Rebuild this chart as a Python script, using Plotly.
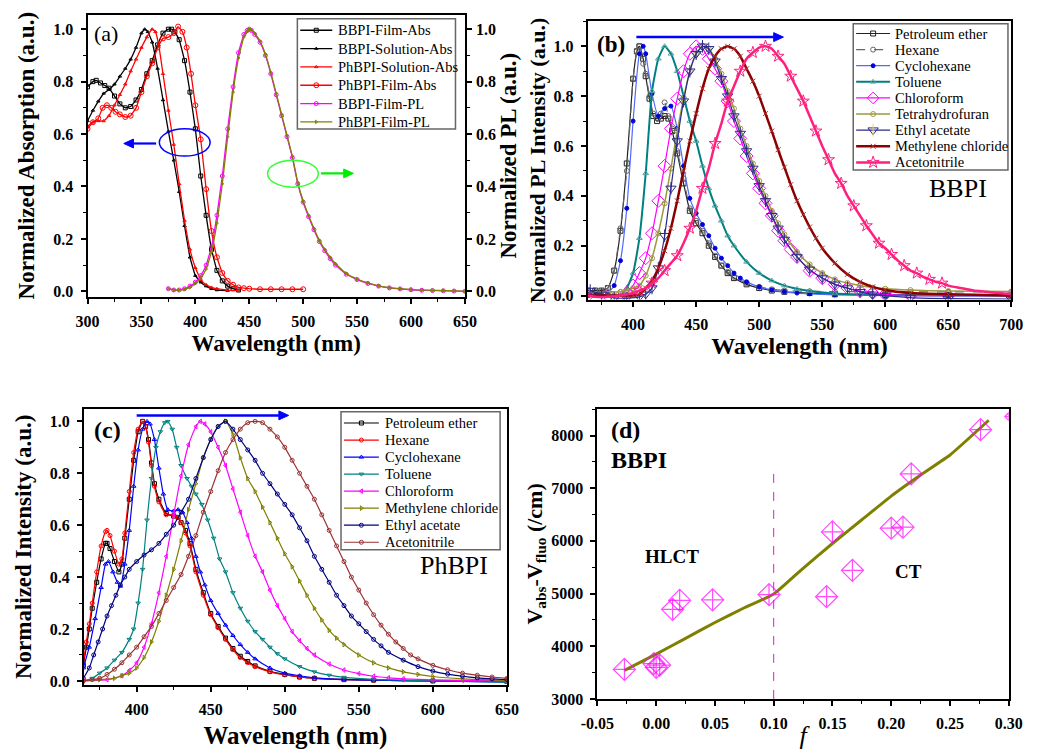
import plotly.graph_objects as go

# ---------------- DATA ----------------
# Panel (a): absorption (left axis) and film PL (right axis)
a_bfa_x = [300, 305, 308, 312, 316, 320, 325, 330, 335, 340, 345, 350, 355, 360, 365, 370, 375, 378, 381, 385,
           390, 395, 400, 405, 410, 415, 420, 425, 430, 435, 440]
a_bfa_y = [0.78, 0.80, 0.805, 0.795, 0.785, 0.775, 0.745, 0.715, 0.70, 0.705, 0.73, 0.77, 0.83, 0.88, 0.94, 0.985,
           1.0, 1.0, 0.99, 0.96, 0.88, 0.76, 0.62, 0.44, 0.29, 0.16, 0.08, 0.04, 0.02, 0.01, 0.005]
a_bsa_x = [300, 305, 310, 315, 320, 325, 330, 335, 340, 345, 350, 353, 356, 360, 365, 370, 375, 380, 385, 390,
           395, 400, 405, 410, 415, 420, 430]
a_bsa_y = [0.65, 0.69, 0.725, 0.755, 0.77, 0.79, 0.82, 0.85, 0.885, 0.93, 0.985, 1.0, 0.99, 0.95, 0.85, 0.73,
           0.61, 0.50, 0.38, 0.25, 0.13, 0.06, 0.035, 0.02, 0.01, 0.005, 0.003]
a_psa_x = [300, 305, 310, 315, 320, 325, 330, 335, 340, 345, 350, 355, 360, 363, 366, 370, 375, 380, 385, 390,
           395, 400, 405, 410, 415, 420, 430, 440]
a_psa_y = [0.63, 0.645, 0.65, 0.65, 0.67, 0.71, 0.75, 0.79, 0.84, 0.885, 0.93, 0.97, 1.0, 0.99, 0.94, 0.83,
           0.69, 0.56, 0.41, 0.27, 0.16, 0.09, 0.045, 0.025, 0.015, 0.01, 0.005, 0.003]
a_pfa_x = [300, 305, 310, 314, 318, 322, 326, 330, 335, 340, 345, 350, 355, 360, 365, 370, 375, 380, 384, 388,
           392, 396, 400, 405, 410, 415, 420, 425, 430, 435, 440, 445, 450, 460, 470, 480, 490, 500]
a_pfa_y = [0.62, 0.645, 0.66, 0.70, 0.71, 0.70, 0.685, 0.675, 0.665, 0.67, 0.70, 0.76, 0.82, 0.87, 0.93, 0.965,
           0.97, 0.985, 1.01, 0.99, 0.93, 0.83, 0.71, 0.58, 0.39, 0.23, 0.13, 0.07, 0.04, 0.025, 0.015, 0.012,
           0.01, 0.008, 0.008, 0.008, 0.008, 0.008]
a_pl_x = [375, 380, 385, 390, 395, 400, 405, 410, 415, 420, 425, 430, 435, 440, 445, 448, 450, 452, 455, 460,
          465, 470, 475, 480, 485, 490, 495, 500, 505, 510, 515, 520, 525, 530, 540, 550, 560, 570, 580, 590,
          600, 610, 620, 630, 640, 650]
a_bpl_y = [0.01, 0.005, 0.005, 0.01, 0.02, 0.035, 0.06, 0.10, 0.17, 0.29, 0.44, 0.62, 0.78, 0.91, 0.98, 0.995,
           1.0, 0.995, 0.98, 0.95, 0.90, 0.83, 0.75, 0.67, 0.59, 0.51, 0.41, 0.34, 0.285, 0.235, 0.19, 0.155,
           0.125, 0.10, 0.065, 0.045, 0.03, 0.02, 0.013, 0.009, 0.006, 0.004, 0.003, 0.002, 0.001, 0.0]
a_ppl_y = [0.01, 0.005, 0.005, 0.008, 0.015, 0.03, 0.05, 0.085, 0.15, 0.26, 0.41, 0.59, 0.76, 0.89, 0.97, 0.99,
           1.0, 0.998, 0.985, 0.955, 0.905, 0.835, 0.755, 0.675, 0.595, 0.515, 0.415, 0.345, 0.29, 0.24, 0.195,
           0.16, 0.13, 0.105, 0.068, 0.047, 0.032, 0.021, 0.014, 0.01, 0.007, 0.005, 0.004, 0.003, 0.002, 0.001]

# Panel (b): BBPI PL in solvents
b_pe_x = [364, 370, 375, 380, 385, 390, 395, 400, 403, 405, 408, 410, 413, 416, 419, 422, 425, 428, 431, 435,
          440, 445, 450, 455, 460, 465, 470, 475, 480, 490, 500, 510, 520, 540, 560, 600, 650, 700]
b_pe_y = [0.02, 0.02, 0.02, 0.03, 0.10, 0.26, 0.53, 0.87, 0.98, 1.0, 0.95, 0.88, 0.79, 0.72, 0.70, 0.71, 0.72,
          0.71, 0.66, 0.57, 0.45, 0.34, 0.29, 0.25, 0.20, 0.155, 0.12, 0.09, 0.07, 0.045, 0.03, 0.02, 0.015,
          0.01, 0.005, 0.003, 0.002, 0.0]
b_hx_y = [0.015, 0.015, 0.015, 0.03, 0.10, 0.27, 0.50, 0.87, 0.98, 1.0, 0.93, 0.89, 0.80, 0.73, 0.71, 0.73,
          0.775, 0.72, 0.67, 0.58, 0.47, 0.35, 0.30, 0.26, 0.21, 0.16, 0.12, 0.095, 0.075, 0.05, 0.035, 0.025,
          0.02, 0.017, 0.016, 0.015, 0.015, 0.015]
b_cy_x = [364, 370, 375, 380, 385, 390, 395, 400, 405, 408, 410, 415, 420, 425, 430, 435, 440, 445, 450, 455,
          460, 465, 470, 475, 480, 485, 490, 500, 510, 520, 530, 540, 560, 600, 650, 700]
b_cy_y = [0.0, 0.0, 0.0, 0.01, 0.04, 0.14, 0.35, 0.70, 0.97, 1.0, 0.97, 0.81, 0.72, 0.75, 0.76, 0.67, 0.52,
          0.39, 0.33, 0.285, 0.24, 0.19, 0.15, 0.12, 0.09, 0.07, 0.055, 0.035, 0.022, 0.015, 0.01, 0.007,
          0.003, 0.0, 0.0, 0.0]
b_to_x = [364, 375, 385, 390, 395, 400, 405, 410, 415, 420, 425, 430, 435, 440, 445, 450, 455, 460, 465, 470,
          475, 480, 490, 500, 510, 520, 530, 540, 560, 580, 600, 650, 700]
b_to_y = [0.0, 0.0, 0.0, 0.0, 0.03, 0.09, 0.23, 0.49, 0.82, 0.95, 1.0, 0.97, 0.90, 0.80, 0.70, 0.62, 0.52,
          0.43, 0.36, 0.30, 0.24, 0.20, 0.135, 0.09, 0.06, 0.04, 0.027, 0.018, 0.008, 0.004, 0.002, 0.0, 0.0]
b_cf_x = [364, 380, 390, 395, 400, 405, 410, 415, 420, 425, 430, 435, 440, 445, 450, 455, 460, 465, 470, 475,
          480, 485, 490, 495, 500, 505, 510, 515, 520, 525, 530, 540, 550, 560, 570, 580, 590, 600, 620, 650, 700]
b_cf_y = [0.0, 0.0, 0.0, 0.01, 0.04, 0.09, 0.15, 0.25, 0.38, 0.52, 0.67, 0.79, 0.90, 0.97, 1.0, 0.99, 0.95,
          0.91, 0.86, 0.78, 0.70, 0.63, 0.56, 0.49, 0.43, 0.37, 0.32, 0.26, 0.22, 0.185, 0.155, 0.10, 0.07,
          0.045, 0.03, 0.018, 0.01, 0.005, 0.0, 0.0, 0.0]
b_thf_x = [364, 380, 390, 395, 400, 405, 410, 415, 420, 425, 430, 435, 440, 445, 450, 455, 460, 465, 470, 475,
           480, 485, 490, 495, 500, 505, 510, 515, 520, 530, 540, 550, 560, 570, 580, 590, 600, 620, 650, 700]
b_thf_y = [0.015, 0.015, 0.015, 0.02, 0.03, 0.04, 0.08, 0.15, 0.25, 0.37, 0.51, 0.66, 0.79, 0.90, 0.97, 1.0,
           0.99, 0.95, 0.89, 0.82, 0.75, 0.67, 0.60, 0.53, 0.46, 0.40, 0.34, 0.29, 0.245, 0.175, 0.125, 0.09,
           0.065, 0.05, 0.04, 0.032, 0.027, 0.022, 0.018, 0.016]
b_ea_x = [366, 375, 385, 395, 405, 410, 415, 420, 425, 430, 435, 440, 445, 450, 455, 460, 465, 470, 475, 480,
          485, 490, 495, 500, 505, 510, 515, 520, 530, 540, 550, 560, 570, 580, 590, 600, 620, 650, 700]
b_ea_y = [0.02, 0.005, -0.01, -0.01, -0.005, 0.005, 0.03, 0.11, 0.24, 0.43, 0.62, 0.78, 0.90, 0.97, 1.0, 0.99,
          0.94, 0.87, 0.80, 0.72, 0.65, 0.58, 0.51, 0.44, 0.38, 0.32, 0.27, 0.225, 0.155, 0.105, 0.07, 0.045,
          0.03, 0.015, 0.005, 0.0, -0.008, -0.012, -0.014]
b_mc_x = [364, 380, 390, 400, 405, 410, 415, 420, 425, 430, 435, 440, 445, 450, 455, 460, 465, 470, 475, 480,
          485, 490, 495, 500, 505, 510, 515, 520, 525, 530, 535, 540, 545, 550, 560, 570, 580, 590, 600, 620,
          650, 700]
b_mc_y = [0.0, 0.0, 0.0, 0.0, 0.005, 0.03, 0.06, 0.11, 0.18, 0.27, 0.38, 0.50, 0.62, 0.73, 0.83, 0.91, 0.96,
          0.99, 1.0, 0.99, 0.96, 0.91, 0.86, 0.80, 0.73, 0.66, 0.585, 0.515, 0.445, 0.38, 0.325, 0.275, 0.23,
          0.19, 0.13, 0.085, 0.055, 0.035, 0.022, 0.01, 0.005, 0.0]
b_an_x = [364, 370, 380, 390, 400, 405, 410, 415, 420, 425, 430, 435, 440, 445, 450, 455, 460, 465, 470, 475,
          480, 485, 490, 495, 500, 505, 510, 515, 520, 525, 530, 535, 540, 545, 550, 555, 560, 565, 570, 575,
          580, 585, 590, 595, 600, 605, 610, 615, 620, 625, 630, 635, 640, 645, 650, 660, 670, 680, 690, 700]
b_an_y = [0.0, -0.005, -0.005, 0.0, 0.01, 0.02, 0.03, 0.05, 0.07, 0.10, 0.13, 0.16, 0.21, 0.27, 0.34, 0.43,
          0.51, 0.61, 0.69, 0.78, 0.84, 0.90, 0.95, 0.975, 0.995, 1.0, 0.99, 0.96, 0.93, 0.88, 0.83, 0.78,
          0.72, 0.66, 0.60, 0.545, 0.49, 0.45, 0.40, 0.36, 0.32, 0.28, 0.245, 0.21, 0.19, 0.165, 0.14, 0.12,
          0.10, 0.09, 0.075, 0.065, 0.055, 0.05, 0.04, 0.03, 0.02, 0.015, 0.01, 0.005]

# Panel (c): PhBPI PL in solvents
c_pe_x = [364, 366, 368, 370, 373, 376, 379, 380, 382, 385, 388, 390, 392, 395, 398, 401, 404, 406, 408, 410,
          412, 415, 420, 425, 428, 430, 433, 436, 440, 445, 450, 455, 460, 465, 470, 475, 480, 490, 500, 510,
          520, 540, 560, 600, 650]
c_pe_y = [0.06, 0.13, 0.2, 0.28, 0.38, 0.47, 0.53, 0.53, 0.51, 0.46, 0.42, 0.45, 0.55, 0.70, 0.85, 0.96, 1.0,
          0.98, 0.93, 0.84, 0.76, 0.70, 0.645, 0.635, 0.63, 0.61, 0.58, 0.53, 0.43, 0.34, 0.26, 0.21, 0.165,
          0.125, 0.095, 0.075, 0.058, 0.037, 0.025, 0.015, 0.01, 0.005, 0.003, 0.0, 0.0]
c_hx_y = [0.07, 0.15, 0.22, 0.30, 0.42, 0.52, 0.575, 0.58, 0.56, 0.50, 0.45, 0.47, 0.57, 0.73, 0.88, 0.97, 1.0,
          0.98, 0.92, 0.83, 0.75, 0.69, 0.64, 0.64, 0.63, 0.61, 0.57, 0.52, 0.42, 0.33, 0.255, 0.205, 0.16,
          0.12, 0.09, 0.07, 0.055, 0.035, 0.023, 0.015, 0.01, 0.005, 0.003, 0.0, 0.0]
c_cy_x = [364, 368, 372, 376, 379, 381, 384, 387, 389, 392, 395, 398, 401, 404, 407, 409, 412, 415, 418, 421,
          425, 428, 431, 434, 437, 440, 443, 446, 450, 455, 460, 465, 470, 475, 480, 490, 500, 510, 520, 540,
          560, 600, 650]
c_cy_y = [0.05, 0.13, 0.24, 0.36, 0.45, 0.46, 0.42, 0.38, 0.365, 0.45, 0.58, 0.75, 0.89, 0.97, 1.0, 0.99, 0.93,
          0.82, 0.72, 0.66, 0.655, 0.66, 0.65, 0.61, 0.55, 0.48, 0.42, 0.37, 0.31, 0.26, 0.215, 0.175, 0.14,
          0.11, 0.085, 0.05, 0.03, 0.02, 0.012, 0.006, 0.003, 0.0, -0.005]
c_to_x = [364, 370, 375, 380, 385, 390, 395, 398, 401, 404, 407, 410, 413, 416, 419, 421, 424, 427, 430, 434,
          437, 440, 444, 448, 452, 456, 460, 465, 470, 475, 480, 485, 490, 495, 500, 510, 520, 530, 540, 560,
          580, 600, 650]
c_to_y = [0.0, 0.01, 0.03, 0.05, 0.08, 0.11, 0.16, 0.20, 0.30, 0.43, 0.62, 0.78, 0.90, 0.96, 0.995, 1.0, 0.97,
          0.90, 0.83, 0.78, 0.75, 0.72, 0.68, 0.62, 0.55, 0.47, 0.42, 0.34, 0.28, 0.23, 0.19, 0.16, 0.13,
          0.105, 0.085, 0.055, 0.035, 0.022, 0.014, 0.006, 0.003, 0.0, -0.005]
c_cf_x = [364, 380, 390, 395, 400, 405, 410, 415, 420, 425, 430, 435, 440, 443, 446, 450, 455, 460, 465, 470,
          475, 480, 485, 490, 495, 500, 505, 510, 515, 520, 530, 540, 550, 560, 570, 580, 600, 620, 650]
c_cf_y = [0.0, 0.005, 0.02, 0.04, 0.07, 0.13, 0.22, 0.34, 0.48, 0.64, 0.79, 0.91, 0.98, 1.0, 0.99, 0.96, 0.90,
          0.83, 0.74, 0.65, 0.56, 0.48, 0.42, 0.35, 0.29, 0.24, 0.19, 0.155, 0.125, 0.10, 0.065, 0.042, 0.028,
          0.018, 0.012, 0.008, 0.004, 0.002, 0.0]
c_mc_x = [364, 375, 385, 390, 395, 400, 405, 410, 415, 420, 425, 430, 435, 440, 445, 450, 455, 460, 465, 470,
          475, 480, 485, 490, 495, 500, 505, 510, 515, 520, 525, 530, 535, 540, 550, 560, 570, 580, 590, 600,
          620, 650]
c_mc_y = [0.0, 0.005, 0.01, 0.02, 0.03, 0.05, 0.09, 0.15, 0.23, 0.33, 0.43, 0.54, 0.66, 0.76, 0.86, 0.93, 0.98,
          1.0, 0.95, 0.86, 0.78, 0.73, 0.67, 0.61, 0.55, 0.49, 0.44, 0.385, 0.33, 0.28, 0.235, 0.195, 0.165,
          0.14, 0.10, 0.07, 0.05, 0.035, 0.025, 0.017, 0.008, 0.002]
c_ea_x = [364, 368, 371, 374, 377, 380, 383, 386, 389, 392, 395, 400, 405, 410, 415, 420, 425, 430, 435, 440,
          445, 450, 455, 460, 465, 470, 475, 480, 485, 490, 495, 500, 505, 510, 515, 520, 525, 530, 535, 540,
          545, 550, 555, 560, 565, 570, 580, 590, 600, 610, 620, 630, 640, 650]
c_ea_y = [0.01, 0.05, 0.10, 0.15, 0.20, 0.25, 0.29, 0.33, 0.37, 0.40, 0.43, 0.46, 0.485, 0.505, 0.53, 0.565,
          0.60, 0.65, 0.70, 0.78, 0.86, 0.93, 0.98, 1.0, 0.97, 0.93, 0.89, 0.85, 0.80, 0.76, 0.72, 0.68, 0.64,
          0.59, 0.54, 0.48, 0.43, 0.38, 0.33, 0.29, 0.25, 0.22, 0.19, 0.16, 0.135, 0.11, 0.08, 0.055, 0.038,
          0.026, 0.018, 0.012, 0.008, 0.005]
c_an_x = [364, 370, 375, 380, 385, 390, 395, 400, 405, 410, 415, 420, 425, 430, 435, 440, 445, 450, 455, 460,
          465, 470, 475, 480, 485, 490, 495, 500, 505, 510, 515, 520, 525, 530, 535, 540, 545, 550, 555, 560,
          565, 570, 575, 580, 585, 590, 600, 610, 620, 630, 640, 650]
c_an_y = [0.0, 0.005, 0.01, 0.025, 0.045, 0.07, 0.10, 0.13, 0.17, 0.21, 0.26, 0.31, 0.36, 0.41, 0.48, 0.56,
          0.65, 0.73, 0.81, 0.88, 0.93, 0.97, 0.995, 1.0, 0.995, 0.97, 0.94, 0.90, 0.85, 0.80, 0.75, 0.70,
          0.64, 0.58, 0.52, 0.46, 0.40, 0.35, 0.30, 0.255, 0.215, 0.18, 0.15, 0.125, 0.10, 0.085, 0.06, 0.043,
          0.03, 0.022, 0.015, 0.01]

# Panel (d): Stokes shift vs orientation polarizability
d_f = [-0.027, -0.002, 0.000, 0.003, 0.014, 0.020, 0.048, 0.096, 0.145, 0.150, 0.167, 0.200, 0.210, 0.217,
       0.276, 0.300]
d_v = [3560, 3670, 3600, 3640, 4700, 4870, 4880, 4980, 4940, 6170, 5440, 6240, 6260, 7270, 8110, 8360]
d_fit_f = [-0.027, 0.0, 0.025, 0.05, 0.075, 0.1, 0.125, 0.15, 0.175, 0.2, 0.225, 0.25, 0.283]
d_fit_v = [3540, 3850, 4150, 4450, 4730, 4990, 5480, 5950, 6400, 6850, 7250, 7630, 8290]
d_split_f = 0.1
d_split_top = 7400
d_xtick_vals = [-0.05, 0.0, 0.05, 0.10, 0.15, 0.20, 0.25, 0.30]
d_xtick_text = ["-0.05", "0.00", "0.05", "0.10", "0.15", "0.20", "0.25", "0.30"]

# ---------------- GEOMETRY / STYLE ----------------
W, H = 1037, 750
SERIF = "Liberation Serif"

# plot-area boxes in pixels (left, top, right, bottom) and ranges
GEO = {
    "a": dict(box=(72.7, 15, 461.7, 301), xr=(300, 650), yr=(-0.02, 1.055)),
    "b": dict(box=(588.3, 21.7, 1025, 304), xr=(364, 700), yr=(-0.016, 1.1)),
    "c": dict(box=(69, 415, 505, 695), xr=(364.4, 650), yr=(-0.015, 1.048)),
    "d": dict(box=(598.3, 415, 1022.3, 709.3), xr=(-0.05, 0.30), yr=(3000, 8505)),
}


def px(x):
    return x / W


def py(y):
    return 1 - y / H


def to_px(panel, xv, yv):
    g = GEO[panel]
    l, t, r, b = g["box"]
    x0, x1 = g["xr"]
    y0, y1 = g["yr"]
    return l + (xv - x0) / (x1 - x0) * (r - l), b - (yv - y0) / (y1 - y0) * (b - t)


fig = go.Figure()


def add_series(specs, xa, ya, smooth):
    for s in specs:
        mk = dict(symbol=s["sym"], size=s["ms"], color=s.get("mc", s["color"]),
                  line=dict(width=s.get("mlw", 1), color=s.get("mc", s["color"])))
        if "mop" in s:
            mk["opacity"] = s["mop"]
        fig.add_trace(go.Scatter(
            x=s["x"], y=s["y"], mode="lines+markers", name=s["name"], showlegend=False,
            xaxis=xa, yaxis=s.get("ya", ya), cliponaxis=True,
            line=dict(color=s["color"], width=s["lw"], dash=s.get("dash", "solid"), shape="spline",
                      smoothing=smooth),
            marker=mk))
        if "sym2" in s:
            fig.add_trace(go.Scatter(
                x=s["x"], y=s["y"], mode="markers", showlegend=False, xaxis=xa, yaxis=s.get("ya", ya),
                marker=dict(symbol=s["sym2"], size=s["ms"], line=dict(width=1, color=s["color"]),
                            color=s["color"])))


def add_legend(specs, box, y0, dy, lx0, lx1, tx, fsize):
    fig.add_shape(type="rect", xref="paper", yref="paper", x0=px(box[0]), x1=px(box[2]),
                  y0=py(box[1]), y1=py(box[3]), line=dict(color="#666666", width=1.5))
    for i, s in enumerate(specs):
        yy = y0 + i * dy
        ms = min(s["ms"], 9)
        mk = dict(symbol=s["sym"], size=[0, ms, 0], color=s.get("mc", s["color"]),
                  line=dict(width=s.get("mlw", 1), color=s.get("mc", s["color"])), opacity=1)
        fig.add_trace(go.Scatter(
            x=[lx0, (lx0 + lx1) / 2, lx1], y=[yy, yy, yy], mode="lines+markers", showlegend=False,
            xaxis="x5", yaxis="y6", cliponaxis=False, hoverinfo="skip",
            line=dict(color=s["color"], width=min(s["lw"], 2.5), dash=s.get("dash", "solid")),
            marker=mk))
        if "sym2" in s:
            fig.add_trace(go.Scatter(
                x=[(lx0 + lx1) / 2], y=[yy], mode="markers", showlegend=False, xaxis="x5", yaxis="y6",
                cliponaxis=False, hoverinfo="skip",
                marker=dict(symbol=s["sym2"], size=ms, line=dict(width=1, color=s["color"]))))
        fig.add_annotation(x=px(tx), y=py(yy), xref="paper", yref="paper", text=s["name"],
                           showarrow=False, xanchor="left", yanchor="middle",
                           font=dict(family=SERIF, size=fsize, color="black"))


# Panel (a)
a_specs = [
    dict(name="BBPI-Film-Abs", x=a_bfa_x, y=a_bfa_y, color="#000000", lw=1.3, sym="square-open", ms=4),
    dict(name="BBPI-Solution-Abs", x=a_bsa_x, y=a_bsa_y, color="#000000", lw=1.3, sym="triangle-up-open", ms=3),
    dict(name="PhBPI-Solution-Abs", x=a_psa_x, y=a_psa_y, color="#FF0000", lw=1.3, sym="triangle-up-open", ms=3),
    dict(name="PhBPI-Film-Abs", x=a_pfa_x, y=a_pfa_y, color="#FF0000", lw=1.3, sym="circle-open", ms=5),
    dict(name="BBPI-Film-PL", x=a_pl_x, y=a_bpl_y, color="#FF00FF", lw=1.3, sym="circle-open", ms=4, ya="y2"),
    dict(name="PhBPI-Film-PL", x=a_pl_x, y=a_ppl_y, color="#808000", lw=1.3, sym="triangle-right-open", ms=3,
         ya="y2"),
]
add_series(a_specs, "x", "y", 0.3)

# Panel (b)
b_specs = [
    dict(name="Petroleum ether", x=b_pe_x, y=b_pe_y, color="#222222", lw=1.2, sym="square-open", ms=5),
    dict(name="Hexane", x=b_pe_x, y=b_hx_y, color="#666666", lw=1.2, dash="dash", sym="circle-open", ms=5),
    dict(name="Cyclohexane", x=b_cy_x, y=b_cy_y, color="#4F6BFF", mc="#0000DD", lw=1.2, sym="circle", ms=4),
    dict(name="Toluene", x=b_to_x, y=b_to_y, color="#008080", mc="#50A0A0", lw=2, sym="triangle-up-open", ms=5),
    dict(name="Chloroform", x=b_cf_x, y=b_cf_y, color="#FF00FF", lw=1.2, sym="diamond-open", ms=10),
    dict(name="Tetrahydrofuran", x=b_thf_x, y=b_thf_y, color="#9A9A40", lw=1.5, sym="circle-open", ms=5),
    dict(name="Ethyl acetate", x=b_ea_x, y=b_ea_y, color="#2B2B8C", lw=1.2, sym="triangle-down-open", ms=9,
         sym2="line-ns-open"),
    dict(name="Methylene chloride", x=b_mc_x, y=b_mc_y, color="#8B0000", mc="#B03030", lw=2.5,
         sym="x-thin-open", ms=5),
    dict(name="Acetonitrile", x=b_an_x, y=b_an_y, color="#FF1F7F", lw=2.5, sym="star-open", ms=9,
         mop=[1 if v % 10 == 5 else 0 for v in b_an_x]),
]
add_series(b_specs, "x2", "y3", 0.5)

# Panel (c)
c_specs = [
    dict(name="Petroleum ether", x=c_pe_x, y=c_pe_y, color="#000000", lw=1.2, sym="square-open", ms=4),
    dict(name="Hexane", x=c_pe_x, y=c_hx_y, color="#FF0000", lw=1.2, sym="circle-open", ms=4),
    dict(name="Cyclohexane", x=c_cy_x, y=c_cy_y, color="#0000FF", lw=1.2, sym="triangle-up-open", ms=4),
    dict(name="Toluene", x=c_to_x, y=c_to_y, color="#008080", lw=1.2, sym="triangle-down-open", ms=4),
    dict(name="Chloroform", x=c_cf_x, y=c_cf_y, color="#FF00FF", lw=1.2, sym="triangle-left-open", ms=4),
    dict(name="Methylene chloride", x=c_mc_x, y=c_mc_y, color="#808000", lw=1.2, sym="triangle-right-open", ms=4),
    dict(name="Ethyl acetate", x=c_ea_x, y=c_ea_y, color="#000080", lw=1.2, sym="circle-open", ms=4),
    dict(name="Acetonitrile", x=c_an_x, y=c_an_y, color="#993333", lw=1.2, sym="circle-open", ms=4),
]
add_series(c_specs, "x3", "y4", 0.5)

# Panel (d)
fig.add_trace(go.Scatter(x=d_fit_f, y=d_fit_v, mode="lines", xaxis="x4", yaxis="y5", showlegend=False,
                         line=dict(color="#808000", width=3, shape="spline", smoothing=0.4)))
fig.add_trace(go.Scatter(x=d_f, y=d_v, mode="markers", xaxis="x4", yaxis="y5", showlegend=False,
                         marker=dict(symbol="diamond-cross-open",
                                     size=[17 if f < 0.29 else 6 for f in d_f], color="#FF00FF",
                                     line=dict(width=1.2, color="#FF00FF"))))
fig.add_shape(type="line", xref="x4", yref="y5", x0=d_split_f, x1=d_split_f, y0=3000, y1=d_split_top,
              line=dict(color="#FF00FF", width=1, dash="dash"))

# Legends (drawn manually to match the compact row spacing)
add_legend(a_specs, (289, 19, 452, 131), 30.7, 18.6, 292, 325, 329, 14.5)
add_legend(b_specs, (862, 24, 1021.5, 172.5), 34, 16.35, 865, 900, 903, 14.5)
add_legend(c_specs, (334, 418, 498, 558), 429.3, 17.29, 337, 373, 377, 14.5)

# ---------------- AXES ----------------
tickfont = dict(family=SERIF, size=16, color="black", weight="bold")


def tfont(size, bold=True):
    return dict(family=SERIF, size=size, color="black", weight="bold" if bold else "normal")


def axis(**kw):
    base = dict(showline=True, linecolor="black", linewidth=2, mirror=True, ticks="outside", ticklen=5,
                tickwidth=1.5, tickcolor="black", showgrid=False, zeroline=False, tickfont=tickfont,
                ticklabelstandoff=4,
                minor=dict(ticks="outside", ticklen=3, tickwidth=1.2, tickcolor="black"))
    base.update(kw)
    return base


def dom(panel):
    l, t, r, b = GEO[panel]["box"]
    return [px(l), px(r)], [py(b), py(t)]


ax_a, ay_a = dom("a")
ax_b, ay_b = dom("b")
ax_c, ay_c = dom("c")
ax_d, ay_d = dom("d")

fig.update_layout(
    width=W, height=H, margin=dict(l=0, r=0, t=0, b=0),
    paper_bgcolor="white", plot_bgcolor="rgba(0,0,0,0)",
    font=dict(family=SERIF, color="black"),
    showlegend=False,
    xaxis=axis(domain=ax_a, anchor="y", range=list(GEO["a"]["xr"]), dtick=50, minor_dtick=25,
               title=dict(text="Wavelength (nm)", font=tfont(23), standoff=6)),
    yaxis=axis(domain=ay_a, anchor="x", range=list(GEO["a"]["yr"]), dtick=0.2, tickformat=".1f",
               minor_dtick=0.1, mirror=False,
               title=dict(text="Normalized Absorption (a.u.)", font=tfont(23), standoff=12)),
    yaxis2=axis(overlaying="y", side="right", anchor="x", range=list(GEO["a"]["yr"]), dtick=0.2,
                tickformat=".1f", minor_dtick=0.1, mirror=False, ticklabelstandoff=1,
                title=dict(text="Normalized PL (a.u.)", font=tfont(23), standoff=3)),
    xaxis2=axis(domain=ax_b, anchor="y3", range=list(GEO["b"]["xr"]), dtick=50, minor_dtick=25,
                title=dict(text="Wavelength (nm)", font=tfont(24), standoff=5)),
    yaxis3=axis(domain=ay_b, anchor="x2", range=list(GEO["b"]["yr"]), dtick=0.2, tickformat=".1f",
                minor_dtick=0.1,
                title=dict(text="Normalized PL Intensity (a.u.)", font=tfont(22), standoff=2)),
    xaxis3=axis(domain=ax_c, anchor="y4", range=list(GEO["c"]["xr"]), dtick=50, minor_dtick=25,
                title=dict(text="Wavelength (nm)", font=tfont(25), standoff=10)),
    yaxis4=axis(domain=ay_c, anchor="x3", range=list(GEO["c"]["yr"]), dtick=0.2, tickformat=".1f",
                minor_dtick=0.1,
                title=dict(text="Normalized Intensity (a.u.)", font=tfont(23), standoff=12)),
    xaxis4=axis(domain=ax_d, anchor="y5", range=list(GEO["d"]["xr"]), tickmode="array",
                tickvals=d_xtick_vals, ticktext=d_xtick_text, minor=dict(ticks="outside", ticklen=3,
                tickwidth=1.2, tickcolor="black", dtick=0.025, tick0=0),
                title=dict(text="<i>f</i>", font=tfont(26, bold=False), standoff=0)),
    yaxis5=axis(domain=ay_d, anchor="x4", range=list(GEO["d"]["yr"]), dtick=1000, minor_dtick=500,
                title=dict(text="V<sub>abs</sub>-V<sub>fluo</sub> (/cm)", font=tfont(22), standoff=3)),
    xaxis5=dict(domain=[0, 1], anchor="y6", range=[0, W], visible=False, fixedrange=True),
    yaxis6=dict(domain=[0, 1], anchor="x5", range=[H, 0], visible=False, fixedrange=True),
)


# ---------------- ANNOTATIONS ----------------
def note(text, x, y, xref, yref, size, bold=False):
    fig.add_annotation(text=text, x=x, y=y, xref=xref, yref=yref, showarrow=False, font=tfont(size, bold))


note("(a)", 317.4, 0.982, "x", "y", 22, bold=False)
note("(b)", 382.3, 1.007, "x2", "y3", 23, bold=True)
note("BBPI", 657.7, 0.43, "x2", "y3", 26, bold=False)
note("(c)", 380.2, 0.965, "x3", "y4", 24, bold=True)
note("PhBPI", 614, 0.444, "x3", "y4", 26, bold=False)
note("(d)", -0.0263, 8112, "x4", "y5", 24, bold=True)
note("BBPI", -0.0148, 7532, "x4", "y5", 24, bold=True)
note("HLCT", 0.0138, 5712, "x4", "y5", 19, bold=True)
note("CT", 0.2147, 5419, "x4", "y5", 19, bold=True)


def arrow(panel, x_head, x_tail, y, color, width=2.2, head=10, half=4.5):
    hx, hy = to_px(panel, x_head, y)
    tx, _ = to_px(panel, x_tail, y)
    sgn = 1 if hx > tx else -1
    base = hx - sgn * head
    fig.add_shape(type="line", xref="paper", yref="paper", x0=px(tx), x1=px(base), y0=py(hy), y1=py(hy),
                  line=dict(color=color, width=width))
    path = "M {:.5f},{:.5f} L {:.5f},{:.5f} L {:.5f},{:.5f} Z".format(
        px(hx), py(hy), px(base), py(hy - half), px(base), py(hy + half))
    fig.add_shape(type="path", xref="paper", yref="paper", path=path, fillcolor=color,
                  line=dict(color=color, width=1))


arrow("a", 333.6, 363.6, 0.564, "#0000FF")
arrow("a", 546.6, 516.6, 0.45, "#00EE00")
arrow("b", 519.2, 402.6, 1.037, "#0000FF", width=2.5)
arrow("c", 502.6, 400.0, 1.023, "#0000FF", width=2.5)

fig.add_shape(type="circle", xref="x", yref="y", x0=366.6, x1=413.7, y0=0.516, y1=0.62,
              line=dict(color="#0000FF", width=1.5))
fig.add_shape(type="circle", xref="x", yref="y", x0=467, x1=514, y0=0.3975, y1=0.50,
              line=dict(color="#33FF33", width=1.5))

fig.write_html("out.html", config={"displayModeBar": False},
               post_script="document.body.style.margin='0';document.body.style.overflow='hidden';")
